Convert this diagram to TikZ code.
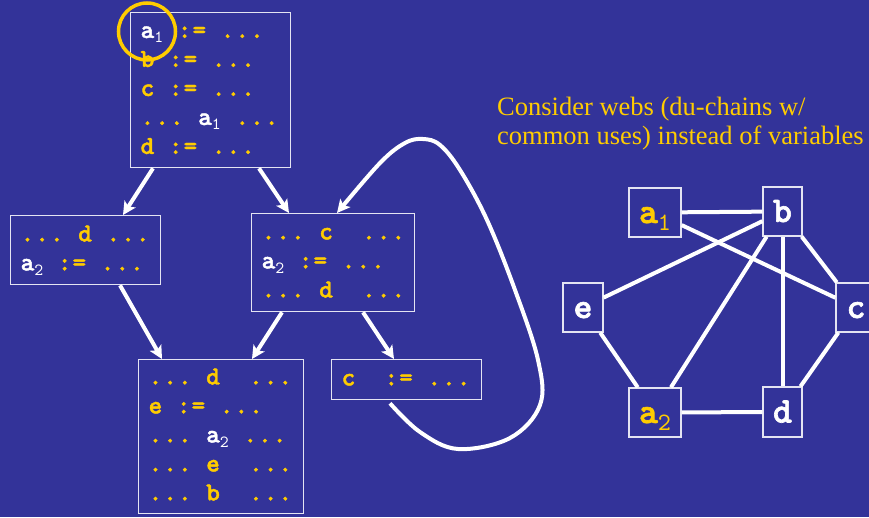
\documentclass[tikz,border=0pt]{standalone}
\usepackage{fontspec}
\setmainfont{Liberation Serif}
\newfontfamily\codefont[LetterSpace=4,FakeBold=1.6]{lmmonolt10-bold.otf}
\newfontfamily\gfont[FakeBold=1.8]{lmmonolt10-bold.otf}
\newfontfamily\subfont{lmmono10-regular.otf}
\usetikzlibrary{arrows.meta,calc}
\definecolor{bg}{RGB}{51,51,153}
\definecolor{gold}{RGB}{255,204,0}
\definecolor{frame}{RGB}{228,228,242}
\newcommand\csub[1]{\raisebox{-5pt}{\subfont\fontsize{17}{17}\selectfont #1}}
\newcommand\gsub[1]{\raisebox{-7pt}{\subfont\fontsize{25}{25}\selectfont #1}}
\newcommand\W[1]{\textcolor{white}{#1}}
\newcommand\Ls{\strut}
\newcommand\Sp{\hspace*{14.6pt}}
\tikzset{
  codebox/.style={draw=frame, line width=1.3pt, inner xsep=10pt, inner ysep=0pt,
    align=left, text=gold, anchor=north west,
    font=\codefont\fontsize{26}{29}\selectfont},
  gnode/.style={draw=frame, line width=1.3pt, inner sep=0pt, minimum height=49pt,
    text height=24pt, text depth=3pt, text=white,
    font=\gfont\fontsize{36}{36}\selectfont},
  arr/.style={draw=white, line width=4pt, -{Stealth[length=13pt,width=13pt,inset=3pt]}},
  gedge/.style={draw=white, line width=4pt},
}
\begin{document}
\begin{tikzpicture}[x=1pt,y=-1pt]
\clip (0,0) rectangle (869,517);
\fill[bg] (0,0) rectangle (869,517);

% code boxes
\node[codebox, text width=140pt, minimum height=155pt] (top) at (130,12)
  {\Ls\W{a\csub{1}}\Sp:=\Sp...\\
   \Ls b\Sp:=\Sp...\\
   \Ls c\Sp:=\Sp...\\
   \Ls ...\Sp\W{a\csub{1}}\Sp...\\
   \Ls d\Sp:=\Sp...};
\node[codebox, text width=130pt, minimum height=69pt] (left) at (10,215)
  {\Ls ...\Sp d\Sp...\\
   \Ls\W{a\csub{2}}\Sp:=\Sp...};
\node[codebox, text width=143pt, minimum height=98pt] (mid) at (251,213)
  {\Ls ...\Sp c\Sp\Sp...\\
   \Ls\W{a\csub{2}}\Sp:=\Sp...\\
   \Ls ...\Sp d\Sp\Sp...};
\node[codebox, text width=145pt, minimum height=154pt] (bot) at (138,359)
  {\Ls ...\Sp d\Sp\Sp...\\
   \Ls e\Sp:=\Sp...\\
   \Ls ...\Sp\W{a\csub{2}}\Sp...\\
   \Ls ...\Sp e\Sp\Sp...\\
   \Ls ...\Sp b\Sp\Sp...};
\node[codebox, text width=130pt, minimum height=40pt] (cbox) at (331,359)
  {\Ls c\Sp\Sp:=\Sp...};

% highlight circle
\node[circle, draw=gold, line width=3.5pt, minimum size=57pt, inner sep=0pt] (hl) at (147,31.5) {};

% arrows
\draw[arr] ($(top.south west)+(23,0)$) -- ($(left.north west)+(113,0)$);
\draw[arr] ($(top.south west)+(129,0)$) -- ($(mid.north west)+(38,0)$);
\draw[arr] ($(left.south west)+(110,0)$) -- ($(bot.north west)+(24,0)$);
\draw[arr] ($(mid.south west)+(31,0)$) -- ($(bot.north west)+(114,0)$);
\draw[arr] ($(mid.south west)+(112,0)$) -- ($(cbox.north west)+(63,0)$);

% loop back
\coordinate (ls) at ($(cbox.south west)+(59,3)$);
\coordinate (le) at ($(mid.north west)+(86,0)$);
\draw[arr] plot[smooth, tension=0.6] coordinates
  {(ls) (420,432) (458,449) (510,438) (540,405) (538,360) (515,290) (487,220)
   (460,170) (440,145) (423,139) (405,143) (380,163) (le)};

% caption
\node[anchor=north west, inner sep=0pt, align=left, text=gold,
      font=\fontsize{26.5}{29}\selectfont] (cap) at (497,94.7)
  {\Ls Consider webs (du-chains w/\\ \Ls common uses) instead of variables};

% interference graph
\node[gnode, minimum width=52pt, text=gold] (a1) at (655,212.5) {a\gsub{1}};
\node[gnode, minimum width=39pt] (b) at (782.5,211.5) {b};
\node[gnode, minimum width=40pt] (e) at (583,307.5) {e};
\node[gnode, minimum width=40pt] (c) at (856,307.5) {c};
\node[gnode, minimum width=52pt, text=gold] (a2) at (655,412.5) {a\gsub{2}};
\node[gnode, minimum width=39pt, minimum height=50pt] (d) at (782.5,412) {d};

\draw[gedge] (a1) -- (b);
\draw[gedge] (a1) -- (c);
\draw[gedge] (b) -- (e);
\draw[gedge] (b) -- (a2);
\draw[gedge] (b) -- (d);
\draw[gedge] (b) -- (c);
\draw[gedge] (e) -- (a2);
\draw[gedge] (a2) -- (d);
\draw[gedge] (c) -- (d);
\end{tikzpicture}
\end{document}
